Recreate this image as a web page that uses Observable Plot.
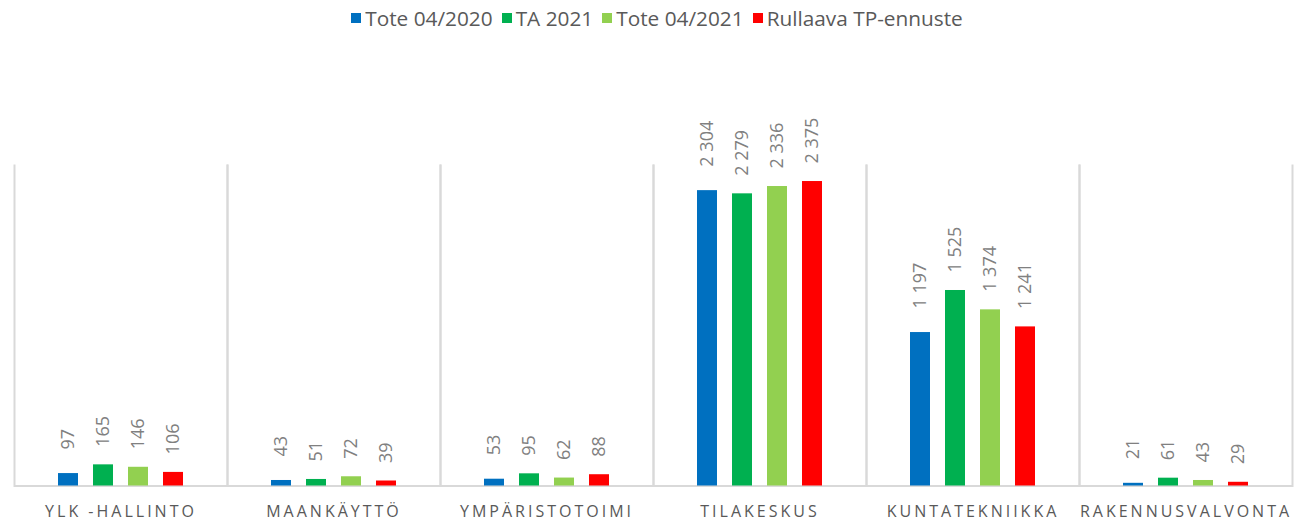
<!DOCTYPE html>
<html>
<head>
<meta charset="utf-8">
<script src="https://cdn.jsdelivr.net/npm/d3@7"></script>
<script src="https://cdn.jsdelivr.net/npm/@observablehq/plot@0.6"></script>
<style>
  html, body { margin: 0; padding: 0; background: #fff; }
  body { width: 1306px; height: 522px; overflow: hidden; font-family: "Open Sans", sans-serif; }
  #legend { height: 36px; display: flex; justify-content: center; align-items: center; padding-left: 8px; box-sizing: border-box; }
  .item { display: flex; align-items: center; margin: 0 4.5px; font-size: 20.8px; color: #595959; }
  .sw { width: 10px; height: 10px; margin-right: 4px; }
  [aria-label="fx-axis tick label"] { letter-spacing: 3px; }
</style>
</head>
<body>
<div id="legend"></div>
<div id="chart"></div>
<script>
const categories = ["YLK -HALLINTO", "MAANKÄYTTÖ", "YMPÄRISTOTOIMI", "TILAKESKUS", "KUNTATEKNIIKKA", "RAKENNUSVALVONTA"];
const series = ["Tote 04/2020", "TA 2021", "Tote 04/2021", "Rullaava TP-ennuste"];
const colors = ["#0070c0", "#00b050", "#92d050", "#ff0000"];
const tote2020 = [97, 43, 53, 2304, 1197, 21];
const ta2021 = [165, 51, 95, 2279, 1525, 61];
const tote2021 = [146, 72, 62, 2336, 1374, 43];
const rullaava = [106, 39, 88, 2375, 1241, 29];

const valuesBySeries = [tote2020, ta2021, tote2021, rullaava];
const data = [];
categories.forEach((c, i) => {
  series.forEach((s, j) => {
    data.push({category: c, series: s, value: valuesBySeries[j][i]});
  });
});

const fmt = v => String(v).replace(/\B(?=(\d{3})+(?!\d))/g, " ");

// legend
const legend = document.getElementById("legend");
series.forEach((s, j) => {
  const it = document.createElement("div");
  it.className = "item";
  const sw = document.createElement("span");
  sw.className = "sw";
  sw.style.background = colors[j];
  const tx = document.createElement("span");
  tx.textContent = s;
  it.appendChild(sw);
  it.appendChild(tx);
  legend.appendChild(it);
});

const font = "'Open Sans', sans-serif";

const chart = Plot.plot({
  width: 1306,
  height: 486,
  marginLeft: 12,
  marginRight: 13,
  marginTop: 129,
  marginBottom: 36.5,
  style: {fontFamily: font, background: "#fff", overflow: "visible"},
  fx: {domain: categories, padding: 0},
  x: {domain: series, paddingInner: 0.44, paddingOuter: 1.18, axis: null},
  y: {domain: [0, 2500], axis: null},
  color: {domain: series, range: colors},
  marks: [
    Plot.frame({anchor: "left", stroke: "#d9d9d9", strokeWidth: 2}),
    Plot.frame({anchor: "right", stroke: "#d9d9d9", strokeWidth: 2}),
    Plot.ruleY([0], {stroke: "#d9d9d9", strokeWidth: 2}),
    Plot.barY(data, {fx: "category", x: "series", y: "value", fill: "series", inset: 0}),
    Plot.text(data.filter(d => d.series === series[0]), {
      fx: "category", x: "series", y: "value", text: d => fmt(d.value),
      rotate: -90, textAnchor: "start", dy: -24, fill: "#808080", fontSize: 18
    }),
    Plot.text(data.filter(d => d.series !== series[0]), {
      fx: "category", x: "series", y: "value", text: d => fmt(d.value),
      rotate: -90, textAnchor: "start", dy: -18, fill: "#808080", fontSize: 18
    }),
    Plot.axisFx({anchor: "bottom", tickSize: 0, tickPadding: 20, fontSize: 16, fill: "#595959", label: null})
  ]
});
document.getElementById("chart").appendChild(chart);
</script>
</body>
</html>
